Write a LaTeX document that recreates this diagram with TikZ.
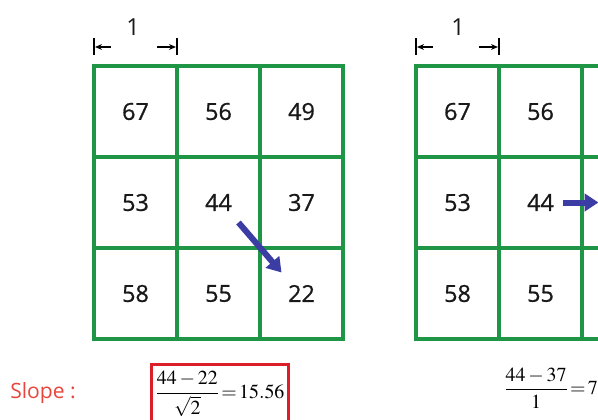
\documentclass[tikz,border=0pt]{standalone}
\usepackage{amsmath}
\usepackage{mathptmx}
\usepackage{fontspec}
\setmainfont{Open Sans}
\newfontfamily\cellfont{Open Sans}[FakeBold=0.8]
\usetikzlibrary{positioning, arrows.meta, calc}
\definecolor{gridgreen}{RGB}{30,150,70}
\definecolor{arrowblue}{RGB}{60,60,165}
\definecolor{slopered}{RGB}{232,70,60}
\definecolor{boxred}{RGB}{220,30,40}

\begin{document}
\begin{tikzpicture}[
  x=0.03cm, y=-0.03cm,
  cell/.style={
    rectangle, draw=gridgreen, line width=0.1cm,
    minimum width=2.49cm, minimum height=2.73cm,
    outer sep=0pt, inner sep=0pt,
    font=\cellfont\fontsize{20}{24}\selectfont, text=black!90
  },
  dimlabel/.style={font=\fontsize{20}{24}\selectfont, text=black!90},
  dimline/.style={black, line width=1.2pt},
  dimarrow/.style={-{Stealth[length=6pt, width=5pt]}, black, line width=1.2pt},
  slopearrow/.style={-{Triangle[length=0.42cm, width=0.52cm]}, arrowblue, line width=0.18cm},
  formula/.style={font=\fontsize{17}{20}\selectfont, inner sep=0pt},
  slopebox/.style={
    rectangle, draw=boxred, line width=0.09cm,
    minimum width=4.08cm, minimum height=1.8cm,
    font=\fontsize{17}{20}\selectfont
  },
]
\useasboundingbox (0,0) rectangle (598,419);

%% ── Left grid: diagonal neighbour ───────────────────────────────────────────
\node[cell] (a67) at (135.5, 111.5) {67};
\node[cell] (a56) at (218.5, 111.5) {56};
\node[cell] (a49) at (301.5, 111.5) {49};
\node[cell] (a53) at (135.5, 202.5) {53};
\node[cell] (a44) at (218.5, 202.5) {44};
\node[cell] (a37) at (301.5, 202.5) {37};
\node[cell] (a58) at (135.5, 293.5) {58};
\node[cell] (a55) at (218.5, 293.5) {55};
\node[cell] (a22) at (301.5, 293.5) {22};

%% ── Right grid: straight neighbour ──────────────────────────────────────────
\node[cell] (b67) at (457.5, 111.5) {67};
\node[cell] (b56) at (540.5, 111.5) {56};
\node[cell] (b49) at (623.5, 111.5) {};
\node[cell] (b53) at (457.5, 202.5) {53};
\node[cell] (b44) at (540.5, 202.5) {44};
\node[cell] (b37) at (623.5, 202.5) {};
\node[cell] (b58) at (457.5, 293.5) {58};
\node[cell] (b55) at (540.5, 293.5) {55};
\node[cell] (b22) at (623.5, 293.5) {};

%% ── Cell size markers ───────────────────────────────────────────────────────
\node[dimlabel] (dimA) at (133, 27) {1};
\draw[dimline] ([yshift=0.33cm]a67.north west) -- ([yshift=0.84cm]a67.north west);
\draw[dimline] ([yshift=0.33cm]a67.north east) -- ([yshift=0.84cm]a67.north east);
\draw[dimarrow] ([xshift=0.51cm, yshift=0.57cm]a67.north west) -- ([xshift=0.03cm, yshift=0.57cm]a67.north west);
\draw[dimarrow] ([xshift=-0.6cm, yshift=0.57cm]a67.north east) -- ([xshift=-0.03cm, yshift=0.57cm]a67.north east);

\node[dimlabel] (dimB) at (458, 27) {1};
\draw[dimline] ([yshift=0.33cm]b67.north west) -- ([yshift=0.84cm]b67.north west);
\draw[dimline] ([yshift=0.33cm]b67.north east) -- ([yshift=0.84cm]b67.north east);
\draw[dimarrow] ([xshift=0.51cm, yshift=0.57cm]b67.north west) -- ([xshift=0.03cm, yshift=0.57cm]b67.north west);
\draw[dimarrow] ([xshift=-0.6cm, yshift=0.57cm]b67.north east) -- ([xshift=-0.03cm, yshift=0.57cm]b67.north east);

%% ── Slope directions ────────────────────────────────────────────────────────
\draw[slopearrow] ($(a44)+(20,20)$) -- ($(a22)+(-20,-21)$);
\draw[slopearrow] ($(b44)+(22,0)$) -- ($(b37)+(-25,0)$);

%% ── Slope values ────────────────────────────────────────────────────────────
\node[font=\fontsize{18}{22}\selectfont, text=slopered] (slope) at (43, 393) {Slope :};
\node[slopebox] (fracA) at (220, 394) {$\dfrac{44-22}{\sqrt{2}}\!=\!15.56$};
\node[formula] (fracB) at (551, 388) {$\dfrac{44-37}{1}\!=\!7$};

\end{tikzpicture}
\end{document}
